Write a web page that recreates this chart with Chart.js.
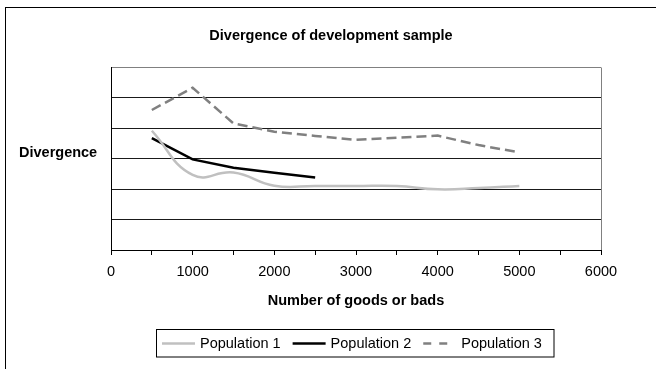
<!DOCTYPE html>
<html>
<head>
<meta charset="utf-8">
<script src="https://cdn.jsdelivr.net/npm/chart.js@4.4.1/dist/chart.umd.min.js"></script>
<style>
  html, body { margin: 0; padding: 0; background: #ffffff; }
  canvas { display: block; }
</style>
</head>
<body>
<canvas id="chart" width="656" height="369"></canvas>
<script>
// Sample sizes (number of goods or bads) and divergence per population
const sampleSizes = [500, 1000, 1500, 2000, 2500, 3000, 3500, 4000, 4500, 5000];
const population1 = [3.91, 2.46, 2.54, 2.11, 2.10, 2.10, 2.10, 1.99, 2.03, 2.10];
const population2 = [3.67, 2.97, 2.70, 2.53, 2.38];
const population3 = [4.59, 5.32, 4.15, 3.88, 3.74, 3.61, 3.68, 3.75, 3.44, 3.20];
const seriesNames = ['Population 1', 'Population 2', 'Population 3'];
const xTickLabels = ['0', '1000', '2000', '3000', '4000', '5000', '6000'];

const chartTitle = 'Divergence of development sample';
const yTitle = 'Divergence';
const xTitle = 'Number of goods or bads';

const FONT = "'Liberation Sans', Arial, sans-serif";
const FSIZE = 14.5;

function toPoints(values) {
  return values.map((v, i) => ({ x: sampleSizes[i], y: v }));
}

// Titles, plot frame and boxed legend
const decorations = {
  id: 'decorations',
  beforeDatasetsDraw(chart) {
    const { ctx, chartArea: a } = chart;
    ctx.save();
    ctx.strokeStyle = '#808080';
    ctx.lineWidth = 1;
    ctx.beginPath();
    ctx.moveTo(Math.round(a.right) + 0.5, Math.round(a.top) + 0.5);
    ctx.lineTo(Math.round(a.right) + 0.5, Math.round(a.bottom));
    ctx.stroke();
    ctx.restore();
  },
  afterDraw(chart) {
    const { ctx, chartArea: a } = chart;
    ctx.save();
    // outer frame
    ctx.strokeStyle = '#000000';
    ctx.lineWidth = 1;
    ctx.strokeRect(5.5, 7.5, 700, 420);

    ctx.fillStyle = '#000000';
    ctx.textBaseline = 'alphabetic';
    ctx.font = 'bold ' + FSIZE + 'px ' + FONT;
    ctx.textAlign = 'center';
    ctx.fillText(chartTitle, 331, 39.5);
    ctx.fillText(xTitle, (a.left + a.right) / 2, 305);
    ctx.textAlign = 'left';
    ctx.fillText(yTitle, 19, 157);

    // legend
    const box = { l: 156.5, t: 329.5, r: 554, b: 357 };
    ctx.strokeStyle = '#000000';
    ctx.strokeRect(box.l, box.t, box.r - box.l, box.b - box.t);
    ctx.font = FSIZE + 'px ' + FONT;
    let x = 162;
    const ly = 343.5;
    chart.data.datasets.forEach(ds => {
      ctx.save();
      ctx.strokeStyle = ds.borderColor;
      ctx.lineWidth = ds.borderWidth;
      const dashed = ds.borderDash && ds.borderDash.length;
      ctx.setLineDash(dashed ? [8, 8] : []);
      ctx.beginPath();
      ctx.moveTo(x, ly);
      ctx.lineTo(x + (dashed ? 26 : 33), ly);
      ctx.stroke();
      ctx.restore();
      const tx = x + 38;
      ctx.fillText(ds.label, tx, 348);
      x = tx + ctx.measureText(ds.label).width + 12;
    });
    ctx.restore();
  }
};

new Chart(document.getElementById('chart'), {
  type: 'line',
  data: {
    datasets: [
      {
        label: seriesNames[0],
        data: toPoints(population1),
        borderColor: '#c0c0c0',
        borderWidth: 2.5,
        tension: 0.45,
        pointRadius: 0
      },
      {
        label: seriesNames[1],
        data: toPoints(population2),
        borderColor: '#000000',
        borderWidth: 2.5,
        tension: 0,
        pointRadius: 0
      },
      {
        label: seriesNames[2],
        data: toPoints(population3),
        borderColor: '#808080',
        borderWidth: 2.5,
        borderDash: [10, 5],
        tension: 0,
        pointRadius: 0
      }
    ]
  },
  options: {
    responsive: false,
    animation: false,
    layout: { padding: { left: 111, right: 55, top: 67, bottom: 0 } },
    plugins: {
      legend: { display: false },
      title: { display: false },
      tooltip: { enabled: false }
    },
    scales: {
      x: {
        type: 'linear',
        min: 0,
        max: 6000,
        afterFit(s) { s.height = 119; },
        ticks: {
          stepSize: 500,
          autoSkip: false,
          maxRotation: 0,
          padding: 8,
          color: '#000000',
          font: { family: FONT, size: FSIZE },
          callback: v => (xTickLabels.includes(String(v)) ? String(v) : '')
        },
        grid: {
          drawOnChartArea: false,
          drawTicks: true,
          tickLength: 5,
          color: '#000000'
        },
        border: { display: true, color: '#000000', width: 1 }
      },
      y: {
        min: 0,
        max: 6,
        afterFit(s) { s.width = 0; },
        ticks: { display: false, stepSize: 1 },
        grid: {
          drawTicks: false,
          color: c => (c.tick && c.tick.value === 6 ? '#808080' : '#1a1a1a')
        },
        border: { display: true, color: '#000000', width: 1 }
      }
    }
  },
  plugins: [decorations]
});
</script>
</body>
</html>
